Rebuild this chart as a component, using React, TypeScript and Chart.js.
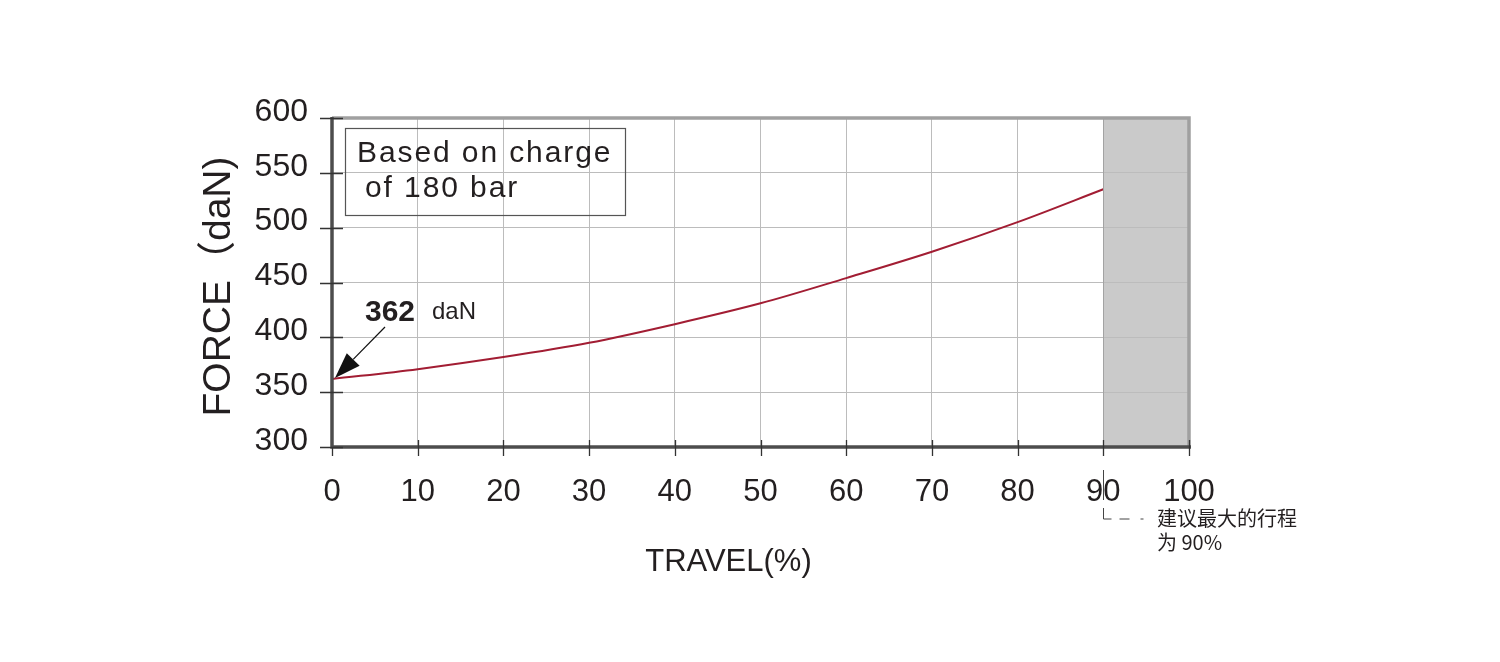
import React, { useEffect, useRef } from "react";
import { Chart, registerables } from "chart.js";

Chart.register(...registerables);

// ---- data ----
const travel = [0, 10, 20, 30, 40, 50, 60, 70, 80, 90];
const force = [362, 371, 382, 395, 412, 431, 454, 478, 505, 535];
const xRange = [0, 100];
const yRange = [300, 600];
const xStep = 10;
const yStep = 50;
const recommendedMax = 90;
const startForce = 362;
const boxLines = ["Based on charge", "of 180 bar"];
const noteLines = ["建议最大的行程", "为 90%"];
const yTitle = "FORCE（daN)";
const xTitle = "TRAVEL(%)";

const TEXT = "#231f20";
const FONT = "'Liberation Sans', Arial, 'Noto Sans CJK SC', sans-serif";
const CJK = "'Noto Sans CJK SC', sans-serif";
const GRID = "#bcbcbc";

const decor = {
  id: "decor",
  beforeDraw(chart: any) {
    const { ctx, chartArea: a, scales } = chart;
    const x90 = scales.x.getPixelForValue(recommendedMax);
    ctx.save();
    ctx.fillStyle = "#cacaca";
    ctx.fillRect(x90, a.top, a.right - x90, a.bottom - a.top);
    ctx.restore();
  },
  afterDraw(chart: any) {
    const { ctx, chartArea: a, scales } = chart;
    const xs = scales.x;
    const ys = scales.y;
    ctx.save();

    // darker line at the start of the shaded zone
    const x90 = Math.round(xs.getPixelForValue(recommendedMax)) + 0.5;
    ctx.strokeStyle = "#a3a3a3";
    ctx.lineWidth = 1;
    ctx.beginPath();
    ctx.moveTo(x90, a.top);
    ctx.lineTo(x90, a.bottom);
    ctx.stroke();

    // top and right border
    ctx.strokeStyle = "#a0a0a0";
    ctx.lineWidth = 3.5;
    ctx.beginPath();
    ctx.moveTo(a.left, a.top);
    ctx.lineTo(a.right, a.top);
    ctx.lineTo(a.right, a.bottom);
    ctx.stroke();

    // left and bottom axis
    ctx.strokeStyle = "#4d4d4d";
    ctx.lineWidth = 3.5;
    ctx.beginPath();
    ctx.moveTo(a.left, a.top - 1);
    ctx.lineTo(a.left, a.bottom);
    ctx.lineTo(a.right + 2, a.bottom);
    ctx.stroke();

    // tick marks
    ctx.strokeStyle = "#333";
    ctx.lineWidth = 1.3;
    ctx.beginPath();
    for (let v = yRange[0]; v <= yRange[1]; v += yStep) {
      const py = Math.round(ys.getPixelForValue(v)) + 0.5;
      ctx.moveTo(a.left - 12, py);
      ctx.lineTo(a.left + 11, py);
    }
    for (let v = xRange[0]; v <= xRange[1]; v += xStep) {
      const px = Math.round(xs.getPixelForValue(v)) + 0.5;
      ctx.moveTo(px, v === 0 ? a.bottom : a.bottom - 7);
      ctx.lineTo(px, a.bottom + 9);
    }
    ctx.stroke();

    // info box
    ctx.strokeStyle = "#555";
    ctx.lineWidth = 1.2;
    ctx.strokeRect(345.5, 128.5, 280, 87);
    ctx.fillStyle = TEXT;
    ctx.font = `30px ${FONT}`;
    (ctx as any).letterSpacing = "1.9px";
    ctx.textAlign = "left";
    ctx.textBaseline = "alphabetic";
    ctx.fillText(boxLines[0], 357, 162);
    ctx.fillText(boxLines[1], 365, 197);
    (ctx as any).letterSpacing = "0px";

    // annotation arrow for start force
    const tipX = xs.getPixelForValue(0) + 3;
    const tipY = ys.getPixelForValue(startForce) - 1;
    const sx = tipX + 50;
    const sy = tipY - 51;
    const ang = Math.atan2(tipY - sy, tipX - sx);
    const headLen = 26;
    const headW = 9;
    const bx = tipX - headLen * Math.cos(ang);
    const by = tipY - headLen * Math.sin(ang);
    ctx.strokeStyle = "#111";
    ctx.lineWidth = 1.2;
    ctx.beginPath();
    ctx.moveTo(sx, sy);
    ctx.lineTo(bx, by);
    ctx.stroke();
    ctx.fillStyle = "#111";
    ctx.beginPath();
    ctx.moveTo(tipX, tipY);
    ctx.lineTo(bx + headW * Math.sin(ang), by - headW * Math.cos(ang));
    ctx.lineTo(bx - headW * Math.sin(ang), by + headW * Math.cos(ang));
    ctx.closePath();
    ctx.fill();

    ctx.fillStyle = TEXT;
    ctx.font = `bold 30px ${FONT}`;
    ctx.fillText(String(startForce), tipX + 30, tipY - 57);
    ctx.font = `24px ${FONT}`;
    ctx.fillText("daN", tipX + 97, tipY - 59);

    // axis titles
    ctx.font = `39px ${FONT}`;
    ctx.textAlign = "center";
    ctx.textBaseline = "middle";
    ctx.save();
    ctx.translate(219, (a.top + a.bottom) / 2 + 4);
    ctx.rotate(-Math.PI / 2);
    ctx.fillText(yTitle, 0, 0);
    ctx.restore();
    ctx.font = `31px ${FONT}`;
    ctx.fillText(xTitle, (a.left + a.right) / 2 - 32, 562);

    // recommended-travel note
    const gx = x90;
    ctx.strokeStyle = "#444";
    ctx.lineWidth = 1;
    ctx.beginPath();
    ctx.moveTo(gx, 470);
    ctx.lineTo(gx, 500);
    ctx.moveTo(gx, 508);
    ctx.lineTo(gx, 519);
    ctx.lineTo(gx + 8, 519);
    ctx.moveTo(gx + 16, 519);
    ctx.lineTo(gx + 26, 519);
    ctx.moveTo(gx + 37, 519);
    ctx.lineTo(gx + 40, 519);
    ctx.stroke();
    ctx.fillStyle = TEXT;
    ctx.font = `20px ${CJK}`;
    ctx.textAlign = "left";
    ctx.textBaseline = "middle";
    ctx.fillText(noteLines[0], 1157, 518);
    ctx.fillText(noteLines[1], 1157, 542);

    ctx.restore();
  },
};

export default function App() {
  const ref = useRef<HTMLCanvasElement>(null);

  useEffect(() => {
    if (!ref.current) return;
    const chart = new Chart(ref.current, {
      type: "line",
      data: {
        datasets: [
          {
            data: travel.map((t, i) => ({ x: t, y: force[i] })),
            borderColor: "#a21d33",
            borderWidth: 2,
            pointRadius: 0,
            cubicInterpolationMode: "monotone",
            fill: false,
          },
        ],
      },
      options: {
        responsive: false,
        animation: false,
        devicePixelRatio: 1,
        layout: { padding: { left: 0, top: 118, right: 311, bottom: 0 } },
        plugins: {
          legend: { display: false },
          tooltip: { enabled: false },
        },
        scales: {
          x: {
            type: "linear",
            min: xRange[0],
            max: xRange[1],
            border: { display: false },
            grid: { color: GRID, lineWidth: 1, drawTicks: false },
            ticks: {
              stepSize: xStep,
              padding: 27,
              color: TEXT,
              font: { family: FONT, size: 31 },
              maxRotation: 0,
            },
            afterFit(scale: any) {
              scale.height = 215;
            },
          },
          y: {
            type: "linear",
            min: yRange[0],
            max: yRange[1],
            border: { display: false },
            grid: { color: GRID, lineWidth: 1, drawTicks: false },
            ticks: {
              stepSize: yStep,
              padding: 24,
              labelOffset: -6,
              color: TEXT,
              font: { family: FONT, size: 32 },
            },
            afterFit(scale: any) {
              scale.width = 332;
            },
          },
        },
      },
      plugins: [decor],
    });
    return () => chart.destroy();
  }, []);

  return (
    <div style={{ position: "absolute", left: 0, top: 0, width: 1500, height: 662, background: "#fff" }}>
      <canvas ref={ref} width={1500} height={662} style={{ width: 1500, height: 662, display: "block" }} />
    </div>
  );
}
